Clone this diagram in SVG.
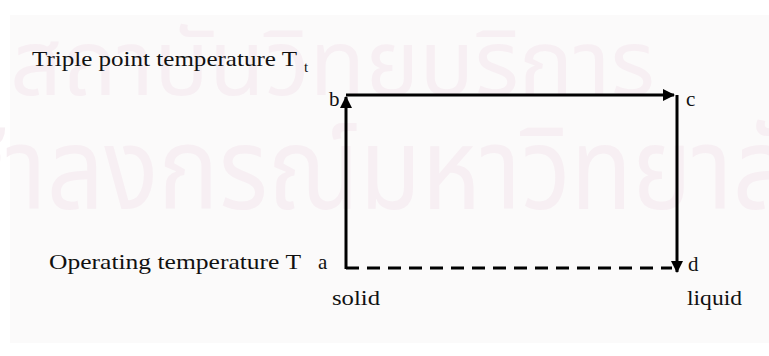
<svg xmlns="http://www.w3.org/2000/svg" width="769" height="356" viewBox="0 0 769 356">
  <defs>
    <style>
      .lbl { font-family: "Liberation Serif", "Times New Roman", serif; font-size: 21px; fill: #111; }
      .sub { font-family: "Liberation Serif", "Times New Roman", serif; font-size: 15px; fill: #111; }
      .wm  { font-family: "Noto Sans Thai", "Noto Sans", "DejaVu Sans", sans-serif; fill: #f7eff3; }
      .edge { stroke: #000; stroke-width: 3; fill: none; }
      .dash { stroke-dasharray: 13 8; }
    </style>
    <marker id="head" viewBox="0 0 12 12" refX="11" refY="6" markerWidth="12" markerHeight="12" markerUnits="userSpaceOnUse" orient="auto">
      <path d="M0,0 L12,6 L0,12 z" fill="#000"/>
    </marker>
  </defs>

  <!-- page -->
  <rect x="0" y="0" width="769" height="356" fill="#ffffff"/>
  <rect x="10" y="15" width="759" height="328" fill="#fbfafa"/>

  <!-- background seal text -->
  <g id="watermark">
    <text class="wm" x="10" y="95" font-size="92" textLength="645" lengthAdjust="spacingAndGlyphs">สถาบันวิทยบริการ</text>
    <text class="wm" x="-115" y="209" font-size="115" textLength="965" lengthAdjust="spacingAndGlyphs">จุฬาลงกรณ์มหาวิทยาลัย</text>
  </g>

  <!-- level captions -->
  <g id="triple-point">
    <text class="lbl" x="32" y="66" textLength="265" lengthAdjust="spacingAndGlyphs">Triple point temperature T</text>
    <text class="sub" x="304" y="72">t</text>
  </g>
  <g id="operating">
    <text class="lbl" x="49" y="269" textLength="252" lengthAdjust="spacingAndGlyphs">Operating temperature T</text>
  </g>

  <!-- state points -->
  <g id="node-a"><text class="lbl" x="318" y="269">a</text></g>
  <g id="node-b"><text class="lbl" x="329" y="106">b</text></g>
  <g id="node-c"><text class="lbl" x="686" y="106">c</text></g>
  <g id="node-d"><text class="lbl" x="688" y="271">d</text></g>

  <!-- phase labels -->
  <g id="solid"><text class="lbl" x="332" y="305" textLength="48" lengthAdjust="spacingAndGlyphs">solid</text></g>
  <g id="liquid"><text class="lbl" x="687" y="305" textLength="55" lengthAdjust="spacingAndGlyphs">liquid</text></g>

  <!-- path a → b → c → d, back to a at operating temperature -->
  <g id="connectors">
    <line class="edge" x1="346" y1="269" x2="346" y2="97" marker-end="url(#head)"/>
    <line class="edge" x1="346" y1="95" x2="674" y2="95" marker-end="url(#head)"/>
    <line class="edge" x1="677" y1="95" x2="677" y2="272" marker-end="url(#head)"/>
    <line class="edge dash" x1="346" y1="268" x2="672" y2="268"/>
  </g>
</svg>
